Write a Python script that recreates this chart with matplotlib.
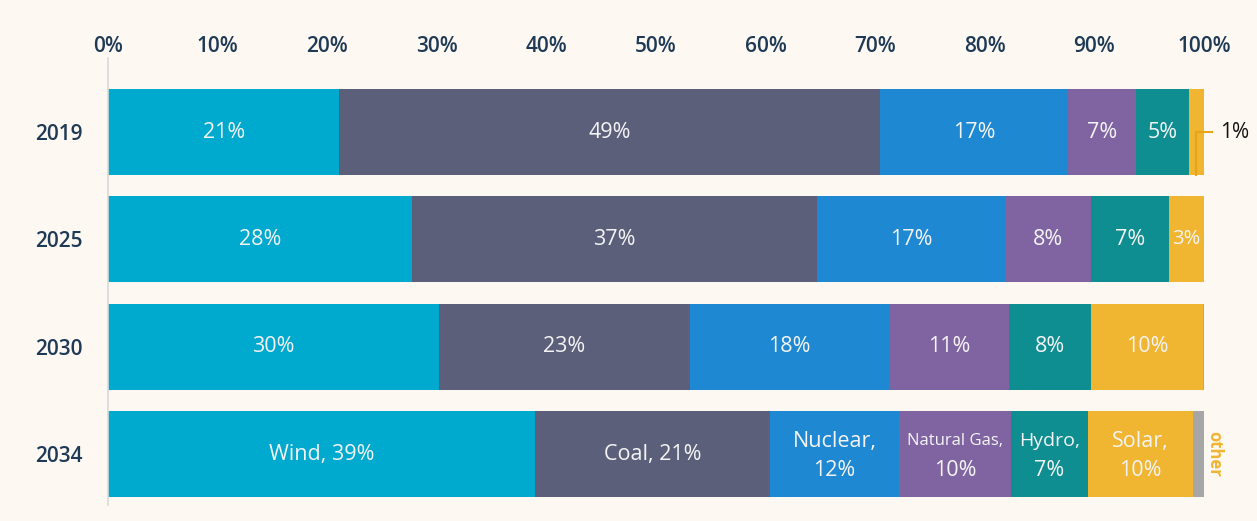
import matplotlib
matplotlib.use("Agg")
import numpy as np
import matplotlib.pyplot as plt

plt.rcParams['font.family'] = ['Open Sans', 'DejaVu Sans']

years = ["2019", "2025", "2030", "2034"]
sources = ["Wind", "Coal", "Nuclear", "Natural Gas", "Hydro", "Solar", "Other"]
colors = ["#00A9CE", "#5B5F7A", "#1E88D2", "#8064A2", "#0F8E91", "#F0B531", "#A6A6A6"]

wind = [21.1, 27.7, 30.2, 39.0]
coal = [49.3, 37.0, 22.9, 21.4]
nuclear = [17.2, 17.1, 18.2, 11.8]
gas = [6.2, 7.9, 10.9, 10.2]
hydro = [4.8, 7.1, 7.5, 7.0]
solar = [1.4, 3.2, 10.2, 9.6]
other = [0.0, 0.0, 0.1, 1.0]

# label text shown inside each segment
labels = [
    ["21%", "49%", "17%", "7%", "5%", "", ""],
    ["28%", "37%", "17%", "8%", "7%", "3%", ""],
    ["30%", "23%", "18%", "11%", "8%", "10%", ""],
    ["Wind, 39%", "Coal, 21%", "Nuclear,\n12%", "Natural Gas,\n10%", "Hydro,\n7%", "Solar,\n10%", ""],
]
first_line_size = {"Nuclear,": 15.5, "Natural Gas,": 12, "Hydro,": 14, "Solar,": 15.5}

series = [wind, coal, nuclear, gas, hydro, solar, other]

fig = plt.figure(figsize=(12.57, 5.21), dpi=100)
fig.patch.set_facecolor("#FDF9F2")
ax = fig.add_axes([108/1257, 1-505/521, (1204-108)/1257, (505-58)/521])
ax.set_facecolor("#FDF9F2")

y = np.arange(len(years))
left = np.zeros(len(years))
for i, vals in enumerate(series):
    vals = np.array(vals)
    ax.barh(y, vals, left=left, height=0.8, color=colors[i], edgecolor="none")
    for j in range(len(years)):
        txt = labels[j][i]
        if not txt:
            continue
        cx = left[j] + vals[j] / 2
        if "\n" in txt:
            l1, l2 = txt.split("\n")
            ax.text(cx, y[j] - 0.12, l1, ha="center", va="center",
                    color="#F4F4F4", fontsize=first_line_size[l1])
            ax.text(cx, y[j] + 0.15, l2, ha="center", va="center",
                    color="#F4F4F4", fontsize=15.5)
        else:
            fs = 14.5 if txt == "3%" else 15.5
            ax.text(cx, y[j], txt, ha="center", va="center",
                    color="#F4F4F4", fontsize=fs)
    left += vals

# 1% callout for 2019 solar
sx = 100 - solar[0] / 2
ax.plot([sx, sx, 100.7], [0.4, 0.0, 0.0], color="#E8A317", lw=1.5, clip_on=False)
ax.text(101.45, 0.0, "1%", ha="left", va="center", fontsize=15, color="#111111")

# other label for 2034
ax.text(100.9, 3, "other", rotation=270, ha="center", va="center",
        fontsize=12, color="#F0B531", fontweight="bold")

ax.set_xlim(0, 100)
ax.set_ylim(3.475, -0.69)
ax.xaxis.tick_top()
ax.set_xticks(np.arange(0, 101, 10))
ax.set_xticklabels([f"{v}%" for v in range(0, 101, 10)])
ax.set_yticks(y)
ax.set_yticklabels(years)
ax.tick_params(axis="x", length=0, labelsize=15, labelcolor="#1F3A56", pad=0.5)
ax.tick_params(axis="y", length=0, labelsize=15, labelcolor="#1F3A56", pad=18)
for lab in ax.get_xticklabels() + ax.get_yticklabels():
    lab.set_fontweight("semibold")

for s in ["top", "right", "bottom"]:
    ax.spines[s].set_visible(False)
ax.spines["left"].set_color("#D9D9D9")
ax.spines["left"].set_linewidth(1.2)

fig.savefig("out.png", dpi=100, facecolor=fig.get_facecolor())
